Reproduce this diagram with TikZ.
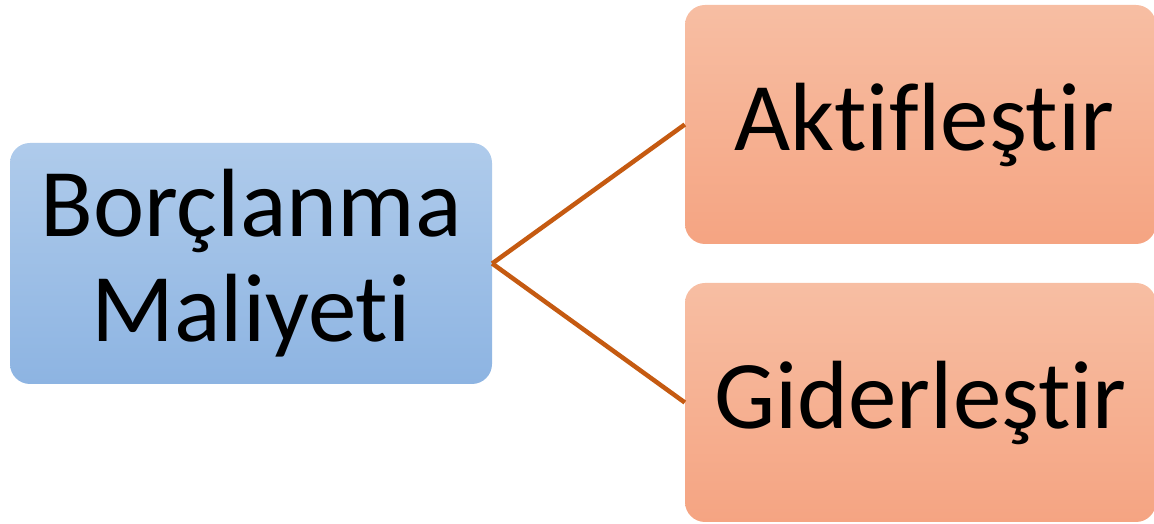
\documentclass[tikz,border=0pt]{standalone}
\usepackage{fontspec}
\setmainfont{Carlito}[RawFeature={-liga;-dlig;-clig}]
\definecolor{bluetop}{HTML}{AFCBEB}
\definecolor{bluebot}{HTML}{8DB4E2}
\definecolor{orgtop}{HTML}{F7BEA3}
\definecolor{orgbot}{HTML}{F5A482}
\definecolor{linkc}{HTML}{C55A11}
\tikzset{
  x=1pt,y=1pt,
  bluebox/.style={rounded corners=20pt, top color=bluetop, bottom color=bluebot, draw=none,
    minimum width=482pt, minimum height=241pt, align=center, inner sep=0pt,
    font=\fontsize{97}{105}\selectfont},
  orgbox/.style={rounded corners=20pt, top color=orgtop, bottom color=orgbot, draw=none,
    minimum width=471pt, minimum height=239pt, align=center, inner sep=0pt,
    font=\fontsize{97}{105}\selectfont},
  link/.style={draw=linkc, line width=4.5pt}
}
\begin{document}
\begin{tikzpicture}
\useasboundingbox (0,0) rectangle (1154,524);
\node[bluebox] (src) at (251,260.5) {Borçlanma\\Maliyeti};
\node[orgbox] (akt) at (920.5,399.5) {\hspace*{8pt}Aktifleştir};
\node[orgbox] (gid) at (920.5,121.5) {Giderleştir};
\draw[link] (src.east) -- (akt.west);
\draw[link] (src.east) -- (gid.west);
\end{tikzpicture}
\end{document}
